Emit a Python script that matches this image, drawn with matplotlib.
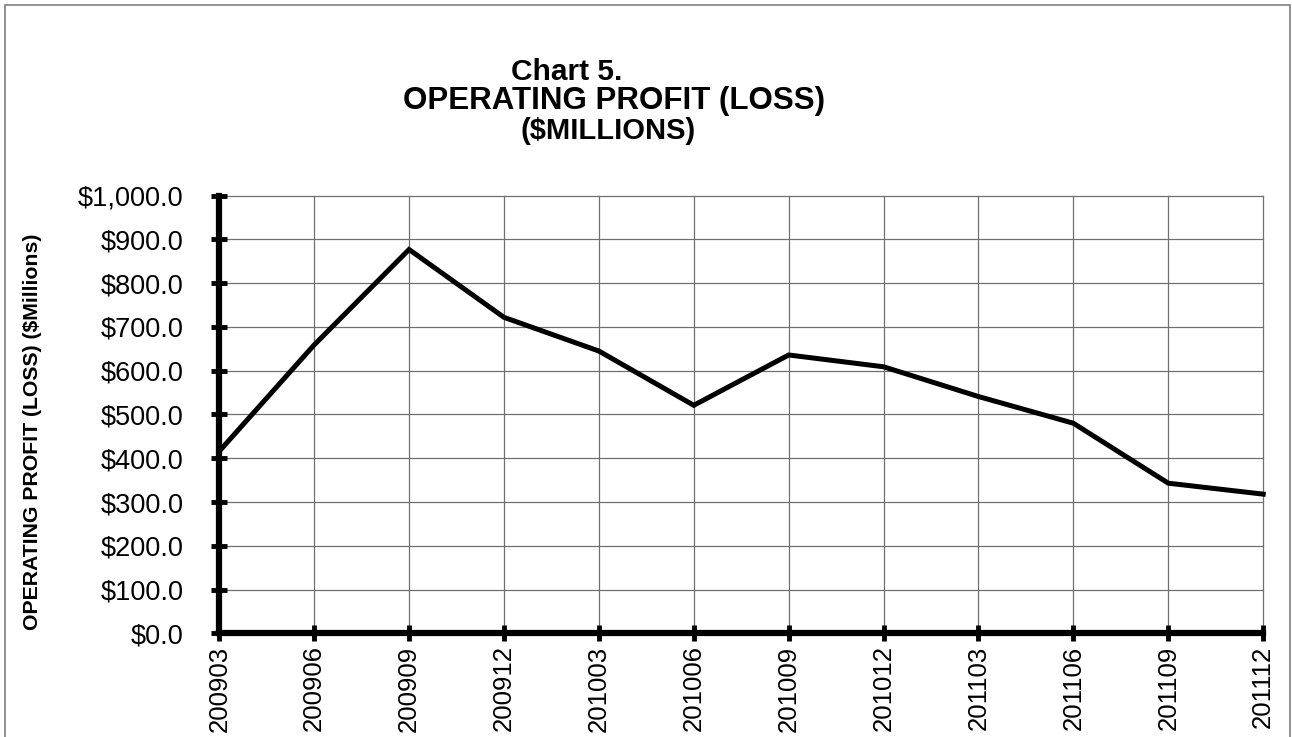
import matplotlib
matplotlib.use("Agg")
import matplotlib.pyplot as plt
import numpy as np

plt.rcParams['font.family'] = ['Liberation Sans', 'DejaVu Sans']

quarters = ['200903', '200906', '200909', '200912', '201003', '201006',
            '201009', '201012', '201103', '201106', '201109', '201112']
profit = [416, 659, 877, 722, 645, 521, 636, 609, 541, 480, 343, 318]

yticks = np.arange(0, 1001, 100)
ytick_labels = ['${:,.1f}'.format(v) for v in yticks]

fig = plt.figure(figsize=(12.92, 7.37), dpi=100)
ax = fig.add_axes([0.1697, 0.1407, 0.8080, 0.5938])

x = np.arange(len(quarters))
ax.plot(x, profit, color='black', linewidth=3.6, solid_joinstyle='miter', clip_on=False, zorder=3)

ax.set_xlim(0, len(quarters) - 1)
ax.set_ylim(0, 1000)
ax.set_xticks(x)
ax.set_xticklabels(quarters, rotation=90, fontsize=18.5)
ax.set_yticks(yticks)
ax.set_yticklabels(ytick_labels, fontsize=19.5)

ax.grid(True, color='#707070', linewidth=0.9)
for gl in ax.get_xgridlines() + ax.get_ygridlines():
    gl.set_clip_on(False)
ax.set_axisbelow(True)

for s in ['top', 'right']:
    ax.spines[s].set_visible(False)
for s in ['left', 'bottom']:
    ax.spines[s].set_linewidth(4.5)
    ax.spines[s].set_color('black')
    ax.spines[s].set_zorder(4)

ax.tick_params(axis='both', direction='inout', length=11.5, width=3.5, color='black')
ax.tick_params(axis='y', pad=20)
ax.tick_params(axis='x', pad=3)

ax.set_ylabel('OPERATING PROFIT (LOSS) ($Millions)', fontsize=15.3, fontweight='bold')
ax.yaxis.set_label_coords(-0.170, 0.46)

fig.text(567 / 1292, 1 - 72 / 737, 'Chart 5.', ha='center', va='center', fontsize=21.5, fontweight='bold')
fig.text(614 / 1292, 1 - 101 / 737, 'OPERATING PROFIT (LOSS)', ha='center', va='center', fontsize=22.5, fontweight='bold')
fig.text(608 / 1292, 1 - 131 / 737, '($MILLIONS)', ha='center', va='center', fontsize=21, fontweight='bold')

# outer chart border
border = plt.Rectangle((5 / 1292, -0.05), 1285 / 1292, 1.05 - 4.5 / 737, transform=fig.transFigure,
                       fill=False, edgecolor='#808080', linewidth=1.2)
fig.patches.append(border)

fig.savefig('out.png', dpi=100)
plt.close(fig)
